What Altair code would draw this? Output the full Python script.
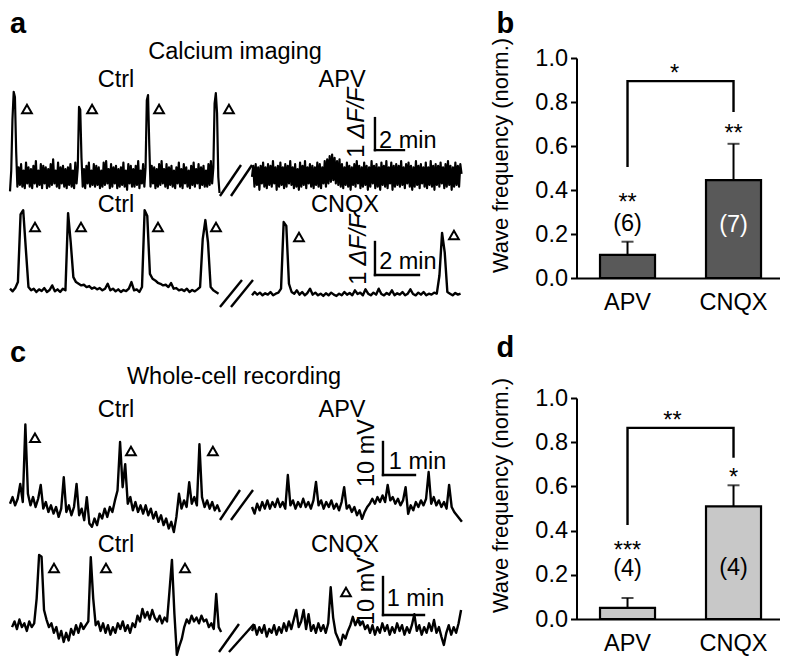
import altair as alt
import pandas as pd

FONT = "Liberation Sans"
FS = 23.5

# ---------------- trace data (sampled at fixed time steps) ----------------
# a, top: calcium imaging, Ctrl then APV (units: dF/F)
A1_CTRL = [-0.45, 0.2, 1.8, 2.66, 2.5, 0.8,
           -0.3, 0.3, -0.25, 0.4, -0.3, 0.2, -0.35, 0.45, -0.2, 0.3,
           -0.3, 0.25, -0.35, 0.35, -0.2, 0.5, -0.3, 0.2, -0.25, 0.4,
           -0.35, 0.35, -0.2, 0.3, -0.35, 0.25, -0.3, 0.4, -0.25, 0.55,
           -0.2, 0.2, -0.3, 0.45, -0.35, 0.3, -0.2, 0.35, -0.3, 0.25,
           -0.35, 0.3, -0.25, 0.4, -0.3, 0.2, -0.35, 0.45, -0.2, 0.3,
           2.19, 2.1, 0.6,
           -0.3, 0.25, -0.35, 0.35, -0.2, 0.45, -0.3, 0.2, -0.25, 0.4,
           -0.3, 0.35, -0.25, 0.3, -0.35, 0.2, -0.3, 0.45, -0.25, 0.5,
           -0.2, 0.25, -0.35, 0.4, -0.3, 0.3, -0.2, 0.35, -0.35, 0.25,
           -0.3, 0.3, -0.25, 0.45, -0.3, 0.2, -0.4, 0.4, -0.2, 0.35,
           -0.3, 0.25, -0.3, 0.35, -0.25, 0.5, -0.35, 0.2, -0.2, 0.4,
           -0.3, 0.3,
           2.4, 2.56, 1.0,
           -0.3, 0.35, -0.2, 0.3, -0.35, 0.25, -0.3, 0.4, -0.25, 0.5,
           -0.2, 0.25, -0.3, 0.4, -0.35, 0.3, -0.25, 0.35, -0.3, 0.2,
           -0.35, 0.3, -0.2, 0.45, -0.3, 0.25, -0.35, 0.4, -0.2, 0.3,
           -0.3, 0.2, -0.35, 0.35, -0.25, 0.45, -0.3, 0.25, -0.2, 0.4,
           -0.35, 0.3, -0.25, 0.35, -0.3, 0.2, -0.3, 0.4, -0.25, 0.5,
           -0.2, 0.3,
           2.3, 2.62, 2.0, 0.0, -0.5]
A1_APV = [0.0, 0.35, -0.3, 0.4, -0.25, 0.3, -0.4, 0.35, -0.2, 0.45,
          -0.3, 0.3, -0.35, 0.4, -0.25, 0.35, -0.3, 0.5, -0.2, 0.3,
          -0.4, 0.35, -0.3, 0.45, -0.25, 0.3, -0.35, 0.4, -0.3, 0.35,
          -0.2, 0.5, -0.25, 0.3, -0.35, 0.4, -0.3, 0.25, -0.4, 0.45,
          -0.3, 0.35, -0.25, 0.5, -0.35, 0.3, -0.2, 0.4, -0.3, 0.35,
          -0.35, 0.3, -0.25, 0.45, -0.3, 0.4, -0.35, 0.3, -0.2, 0.5,
          -0.3, 0.55, -0.2, 0.65, -0.15, 0.7, -0.1, 0.6, -0.2, 0.5,
          -0.25, 0.55, -0.3, 0.4, -0.35, 0.3, -0.25, 0.45, -0.3, 0.35,
          -0.4, 0.3, -0.25, 0.4, -0.3, 0.5, -0.2, 0.35, -0.35, 0.3,
          -0.3, 0.45, -0.25, 0.35, -0.4, 0.3, -0.3, 0.5, -0.2, 0.35,
          -0.35, 0.4, -0.3, 0.3, -0.4, 0.45, -0.25, 0.35, -0.3, 0.5,
          -0.35, 0.3, -0.2, 0.45, -0.4, 0.35, -0.3, 0.4, -0.25, 0.35,
          -0.3, 0.5, -0.25, 0.3, -0.35, 0.4, -0.2, 0.45, -0.3, 0.35,
          -0.4, 0.3, -0.3, 0.5, -0.25, 0.35, -0.35, 0.4, -0.2, 0.3,
          -0.3, 0.45, -0.35, 0.3, -0.25, 0.5, -0.3, 0.35, -0.4, 0.4,
          -0.25, 0.35, -0.3, 0.45, -0.2, 0.3, -0.35, 0.4, -0.3, 0.5,
          -0.25, 0.35, -0.4, 0.3, -0.3, 0.45, -0.25, 0.35, -0.3, 0.4,
          0.1]
# a, bottom: calcium imaging, Ctrl then CNQX (dF/F)
A2_CTRL = [0.1, 0.02, 0.12, 0.3, 2.35, 2.48, 1.3, 0.15, 0.05, 0.1, 0.0, 0.08, 0.03, 0.12, 0.0, 0.06,
           0.2, 0.02, 0.08, 0.0, 0.1, 0.05, 2.39, 1.5, 0.45, 0.3, 0.25, 0.2, 0.22, 0.15, 0.18, 0.1,
           0.14, 0.08, 0.12, 0.05, 0.1, 0.25, 0.05, 0.1, 0.02, 0.08, 0.0, 0.06, 0.03, 0.1, 0.3, 0.05,
           0.08, 0.0, 0.15, 2.48, 2.3, 0.55, 0.4, 0.35, 0.28, 0.25, 0.2, 0.22, 0.15, 0.27, 0.1, 0.12,
           0.05, 0.08, 0.03, 0.1, 0.0, 0.06, 0.02, 0.08, 0.15, 1.6, 2.18, 1.5, 0.15, 0.05, 0.0, -0.05]
A2_CNQX = [-0.1, 0.0, -0.08, -0.02, -0.1, -0.04, -0.08, 0.0, -0.1, -0.05, -0.02, 0.1, 2.12, 2.0, 0.25, 0.0,
           -0.05, 0.05, -0.08, 0.0, -0.1, -0.03, 0.1, -0.08, -0.02, -0.1, -0.05, -0.12, -0.04, -0.1, -0.02, -0.08,
           -0.12, -0.05, -0.1, 0.0, -0.08, -0.03, -0.1, 0.05, -0.06, -0.02, -0.1, 0.08, -0.05, -0.1, -0.02, -0.08,
           0.1, -0.06, -0.1, -0.03, -0.08, 0.05, -0.1, -0.04, -0.08, 0.0, -0.1, -0.05, 0.08, -0.06, -0.1, -0.02,
           -0.08, 0.0, -0.1, -0.05, -0.08, -0.02, -0.05, 0.5, 1.79, 1.2, 0.0, -0.05, -0.1, -0.03, -0.08, -0.05]
# c, top: whole-cell recording, Ctrl then APV (mV)
C1_CTRL = [1.0, 3.0, 0.5, 2.5, 7.0, 1.5, 25.0, 4.0, 0.5, 3.0, 0.0, 2.5, 6.7, -0.5, 1.5, -1.5,
           0.5, -2.0, 0.0, -3.0, -0.5, 9.0, -1.5, 0.5, -2.5, 0.0, 7.0, -2.5, -0.5, -4.0, 3.0, -5.0,
           -6.0, -3.5, -5.5, -2.0, -3.5, -0.5, -3.0, 0.0, -1.5, 2.0, 5.0, 19.7, 6.0, 13.0, 1.0, 3.0,
           -1.0, 1.5, -1.5, 0.5, -2.0, 0.5, -2.5, -0.5, -3.5, -1.5, -4.5, -2.5, -5.5, -3.5, -6.5, -4.5,
           -7.6, -3.0, 4.0, -0.5, 2.0, 0.0, 7.5, 1.0, 3.0, 0.5, 19.0, 3.0, 0.0, 2.0, -0.5, 1.5,
           -1.0, 0.5, -1.5]
C1_APV = [0.0, -2.0, 1.0, -1.0, 1.5, -0.5, 2.0, -0.5, 1.5, 0.0, 2.5, 0.0, 1.5, -0.5, 9.7, 0.5,
          2.0, -0.5, 1.5, 0.0, 2.5, 0.0, 1.5, -0.5, 2.0, 7.6, 0.5, 2.0, -0.5, 1.5, 0.0, 2.0,
          -0.5, 1.0, -1.0, 1.5, 6.0, -0.5, 0.5, -1.5, 0.0, -2.5, -1.0, -3.6, -1.5, 0.0, 1.0, 2.5,
          1.0, 3.0, 1.5, 3.5, 1.5, 6.7, 2.0, 3.0, 1.0, 2.5, 0.5, 2.0, 6.0, -2.1, 0.5, -1.0,
          1.5, 0.0, 2.0, 0.5, 2.5, 10.6, 1.0, 3.0, 0.5, 2.0, 0.0, 1.5, -0.5, 6.7, 0.0, -1.5,
          -2.5, -3.5, -4.5]
# c, bottom: whole-cell recording, Ctrl then CNQX (mV)
C2_CTRL = [0.5, 2.0, 0.0, 2.5, 0.5, 1.5, -0.5, 2.0, 0.5, 1.5, 8.0, 19.5, 19.0, 5.0, 2.5, 0.5,
           1.5, -1.0, 0.5, -2.5, -0.5, -3.4, -1.0, -3.0, 0.0, -1.5, 1.0, -1.0, 1.5, 0.0, 1.0, 2.0,
           18.9, 8.0, 1.0, 2.0, -0.5, 1.5, -1.0, 1.0, -1.5, 0.5, -1.0, 1.5, 0.0, 2.0, -0.5, 1.0,
           -1.0, 1.5, 0.5, 3.5, 2.0, 5.3, 3.0, 4.5, 2.5, 5.0, 3.0, 2.0, 3.5, 1.5, 3.0, 2.0,
           10.0, 18.2, 4.0, -6.8, -4.5, -2.6, 0.5, 2.5, 1.5, 3.5, 2.0, 3.0, 1.5, 3.5, 2.0, 2.5,
           0.5, 1.5, 0.0, 9.2, 0.5, -0.8]
C2_CNQX = [-0.5, 1.0, -1.5, 0.5, -1.0, 1.0, -2.0, 0.0, -1.0, 1.0, -1.5, 0.5, -1.0, 1.5, -0.5, 2.0,
           0.0, 2.5, 5.0, 0.5, 2.0, 5.0, 0.0, 3.9, -0.5, 1.0, -1.0, 1.5, -0.5, 1.0, -1.0, 1.5,
           11.0, 3.0, -1.0, -2.5, -4.2, -1.5, -2.5, -0.5, 1.0, 3.2, 1.0, 2.5, 1.0, 2.0, 0.0, 1.0,
           -1.0, 1.0, -1.5, 0.5, -1.0, 1.5, -0.5, 1.0, -1.5, 0.5, -1.0, 1.5, -0.5, 1.0, -1.5, 0.5,
           -1.0, 1.0, 3.9, -0.5, 1.0, -1.5, 0.5, -1.0, 1.5, -0.5, 2.4, -1.0, 0.5, -2.0, -4.2, -1.0,
           1.0, -1.5, 0.5, -1.0, 1.5, 5.0]

# ---------------- bar data ----------------
CONDITIONS = ["APV", "CNQX"]
CA_FREQ = [0.105, 0.445]
CA_SEM = [0.06, 0.165]
CA_N = ["(6)", "(7)"]
CA_STARS = ["**", "**"]
CA_BETWEEN = "*"
WC_FREQ = [0.05, 0.51]
WC_SEM = [0.045, 0.095]
WC_N = ["(4)", "(4)"]
WC_STARS = ["***", "*"]
WC_BETWEEN = "**"
Y_TICKS = [0.0, 0.2, 0.4, 0.6, 0.8, 1.0]
Y_TITLE = "Wave frequency (norm.)"

# ---------------- panel layouts (in each panel's own data units) ----------------
A1 = dict(
    xdom=[0, 31.379], ydom=[-0.719, 5.281], height=192, sw=2.2,
    segments=[(0.0, 0.085, A1_CTRL), (16.69, 0.085, A1_APV)],
    texts=[("letter", "a", 0.0, 4.5), ("center", "Calcium imaging", 15.52, 3.906),
           ("center", "Ctrl", 7.31, 3.03), ("center", "APV", 22.9, 3.03),
           ("left", "2 min", 25.45, 1.125),
           ("rot", "1 ", 23.93, 0.6), ("rot_it", "\u0394F/F", 23.93, 1.2)],
    tri=[(1.17, 2.125), (5.66, 2.125), (10.28, 2.125), (15.1, 2.125)],
    slashes=[(14.48, -0.594, 15.93, 0.375), (15.24, -0.594, 16.69, 0.375)],
    bar=(25.17, 0.84, 2, 1),
    edge=True,
)
A2 = dict(
    xdom=[0, 20.682], ydom=[-0.606, 2.788], height=112, sw=2.4,
    segments=[(0.0, 0.12, A2_CTRL), (11.0, 0.12, A2_CNQX)],
    texts=[("center", "Ctrl", 4.82, 2.636), ("center", "CNQX", 15.23, 2.636),
           ("left", "2 min", 16.78, 0.909),
           ("rot", "1 ", 15.86, 0.22), ("rot_it", "\u0394F/F", 15.86, 0.8)],
    tri=[(1.136, 1.97), (3.227, 1.97), (6.727, 1.97), (9.364, 1.97), (13.136, 1.667), (20.18, 1.727)],
    slashes=[(9.545, -0.4545, 10.545, 0.364), (10.045, -0.4545, 11.045, 0.364)],
    bar=(16.59, 0.515, 2, 1),
    edge=False,
)
C1 = dict(
    xdom=[0, 14.219], ydom=[-7.576, 59.09], height=220, sw=2.4,
    segments=[(0.0, 0.08, C1_CTRL), (7.5625, 0.08, C1_APV)],
    texts=[("letter", "c", 0.0, 43.94), ("center", "Whole-cell recording", 7.0, 39.39),
           ("center", "Ctrl", 3.3125, 29.39), ("center", "APV", 10.375, 29.39),
           ("left", "1 min", 11.84, 13.64), ("rot_c", "10 mV", 11.156, 16.36)],
    tri=[(0.78, 21.0), (3.78, 16.97), (6.34, 16.97)],
    slashes=[(6.5625, -3.94, 7.1875, 5.15), (6.906, -3.94, 7.594, 5.15)],
    bar=(11.656, 9.70, 1, 10),
    edge=False,
)
C2 = dict(
    xdom=[0, 11.098], ydom=[-6.84, 25.53], height=123, sw=2.4,
    segments=[(0.05, 0.06, C2_CTRL), (5.902, 0.06, C2_CNQX)],
    texts=[("center", "Ctrl", 2.585, 22.1), ("center", "CNQX", 8.17, 22.1),
           ("left", "1 min", 9.19, 7.89), ("rot_c", "10 mV", 8.707, 10.0)],
    tri=[(1.073, 16.05), (2.341, 16.05), (4.268, 16.05), (8.195, 9.74)],
    slashes=[(5.098, -6.05, 5.585, 1.316), (5.341, -6.05, 5.951, 1.316)],
    bar=(9.098, 3.68, 1, 10),
    edge=False,
)

TEXT_STYLES = {
    "letter": dict(fontSize=29, fontWeight="bold", align="left", baseline="alphabetic"),
    "center": dict(fontSize=FS, align="center", baseline="middle"),
    "left": dict(fontSize=FS, align="left", baseline="middle"),
    "rot": dict(fontSize=FS, align="left", baseline="middle", angle=270),
    "rot_it": dict(fontSize=FS, align="left", baseline="middle", angle=270, fontStyle="italic"),
    "rot_c": dict(fontSize=FS, align="center", baseline="middle", angle=270),
}

BAR_W = 203


def trace_panel(p):
    xs = alt.Scale(domain=p["xdom"], nice=False, zero=False)
    ys = alt.Scale(domain=p["ydom"], nice=False, zero=False)
    X = alt.X("t:Q", scale=xs, axis=None)
    Y = alt.Y("v:Q", scale=ys, axis=None)
    layers = []
    for t0, dt, vals in p["segments"]:
        df = pd.DataFrame({"t": [t0 + i * dt for i in range(len(vals))], "v": vals})
        layers.append(alt.Chart(df).mark_line(color="black", strokeWidth=p["sw"], strokeJoin="round")
                      .encode(x=X, y=Y))
    sl = pd.DataFrame(p["slashes"], columns=["t", "v", "t2", "v2"])
    layers.append(alt.Chart(sl).mark_rule(color="black", strokeWidth=2.4)
                  .encode(x=X, y=Y, x2="t2:Q", y2="v2:Q"))
    bt, bv, lt, lv = p["bar"]
    sb = pd.DataFrame({"t": [bt, bt], "v": [bv, bv], "t2": [bt, bt + lt], "v2": [bv + lv, bv]})
    layers.append(alt.Chart(sb).mark_rule(color="black", strokeWidth=2.4, strokeCap="square")
                  .encode(x=X, y=Y, x2="t2:Q", y2="v2:Q"))
    tri = pd.DataFrame(p["tri"], columns=["t", "v"])
    layers.append(alt.Chart(tri).mark_point(shape="triangle-up", filled=False, size=95, strokeWidth=2,
                                            color="black", opacity=1).encode(x=X, y=Y))
    for style, kw in TEXT_STYLES.items():
        rows = [(lab, t, v) for (s, lab, t, v) in p["texts"] if s == style]
        if not rows:
            continue
        df = pd.DataFrame(rows, columns=["label", "t", "v"])
        layers.append(alt.Chart(df).mark_text(font=FONT, color="black", **kw)
                      .encode(x=X, y=Y, text="label:N"))
    if p["edge"]:
        # invisible marker fixing the right extent of the left column
        layers.append(alt.Chart(pd.DataFrame({"k": [0]})).mark_rule(opacity=0, strokeWidth=1)
                      .encode(x=alt.value(455), y=alt.value(60), y2=alt.value(61)))
    return alt.layer(*layers).properties(width=455, height=p["height"])


def bar_panel(freq, sem, ns, ncolors, stars, between, fill, bracket, star_y, n_y, between_x,
              between_y, height, title_y):
    xs = alt.Scale(domain=CONDITIONS, paddingInner=0.481, paddingOuter=0.198, align=0.56)
    ys = alt.Scale(domain=[0, 1], nice=False, zero=True)
    Xa = alt.X("cond:N", scale=xs, title=None, axis=alt.Axis(labelAngle=0, ticks=False))
    Xn = alt.X("cond:N", scale=xs, title=None)
    Ya = alt.Y("freq:Q", scale=ys, title=Y_TITLE,
               axis=alt.Axis(values=Y_TICKS, format=".1f", titleY=title_y))

    def Yn(f):
        return alt.Y(f, scale=ys, title=Y_TITLE)

    df = pd.DataFrame({"cond": CONDITIONS, "freq": freq,
                       "top": [f + s for f, s in zip(freq, sem)],
                       "stars": stars, "star_y": star_y, "n": ns, "n_y": n_y, "ncol": ncolors})
    bars = alt.Chart(df).mark_bar(fill=fill, stroke="black", strokeWidth=2.2).encode(x=Xa, y=Ya)
    err = alt.Chart(df).mark_rule(color="black", strokeWidth=2).encode(x=Xn, y=Yn("freq:Q"), y2="top:Q")
    cap = alt.Chart(df).mark_tick(color="black", size=12, thickness=2).encode(x=Xn, y=Yn("top:Q"))
    st = alt.Chart(df).mark_text(font=FONT, fontSize=FS, baseline="alphabetic", dy=13, color="black") \
        .encode(x=Xn, y=Yn("star_y:Q"), text="stars:N")
    nt = alt.Chart(df).mark_text(font=FONT, fontSize=FS, baseline="middle") \
        .encode(x=Xn, y=Yn("n_y:Q"), text="n:N", color=alt.Color("ncol:N", scale=None))
    brdf = pd.DataFrame({"cond": ["APV", "APV", "CNQX", "CNQX"], "v": bracket, "o": [0, 1, 2, 3]})
    br = alt.Chart(brdf).mark_line(color="black", strokeWidth=2.4, strokeJoin="miter") \
        .encode(x=Xn, y=Yn("v:Q"), order="o:O")
    btdf = pd.DataFrame({"label": [between], "v": [between_y]})
    bt = alt.Chart(btdf).mark_text(font=FONT, fontSize=FS, baseline="alphabetic", dy=13, color="black") \
        .encode(x=alt.value(between_x), y=Yn("v:Q"), text="label:N")
    return alt.layer(bars, err, cap, st, nt, br, bt).properties(width=BAR_W, height=height)


def spacer(letter, height, ybase, edge):
    df = pd.DataFrame({"label": [letter]})
    lay = [alt.Chart(df).mark_text(font=FONT, fontSize=29, fontWeight="bold", align="left",
                                   baseline="alphabetic", color="black")
           .encode(x=alt.value(-80), y=alt.value(ybase), text="label:N")]
    if edge:
        # invisible marker fixing the left extent of the right column
        lay.append(alt.Chart(df).mark_rule(opacity=0, strokeWidth=1)
                   .encode(x=alt.value(-110), y=alt.value(20), y2=alt.value(21)))
    return alt.layer(*lay).properties(width=BAR_W, height=height)


panel_b = bar_panel(CA_FREQ, CA_SEM, CA_N, ["black", "white"], CA_STARS, CA_BETWEEN, "#595959",
                    [0.505, 0.895, 0.895, 0.755], [0.368, 0.68], [0.245, 0.24], 98, 0.955, 220, 97)
panel_d = bar_panel(WC_FREQ, WC_SEM, WC_N, ["black", "black"], WC_STARS, WC_BETWEEN, "#c8c8c8",
                    [0.425, 0.865, 0.865, 0.73], [0.335, 0.665], [0.226, 0.23], 96, 0.923, 221, 97)

left = alt.vconcat(trace_panel(A1), trace_panel(A2), trace_panel(C1), trace_panel(C2),
                   spacing=0, bounds="flush")
right = alt.vconcat(spacer("b", 50, 25, True), panel_b, spacer("d", 120, 79, False), panel_d,
                    spacing=0, bounds="flush")

chart = alt.hconcat(left, right, spacing=1.5).properties(padding=0) \
    .configure_view(stroke=None) \
    .configure_axis(grid=False, labelFont=FONT, titleFont=FONT, labelColor="black", titleColor="black",
                    domainColor="black", tickColor="black", labelFontSize=FS, titleFontSize=22,
                    titleFontWeight="normal", domainWidth=2, tickWidth=2) \
    .configure_axisY(tickSize=6, labelPadding=3, titlePadding=22) \
    .configure_axisX(labelPadding=12)

chart.save("out.html", embed_options={"renderer": "svg", "actions": False})
